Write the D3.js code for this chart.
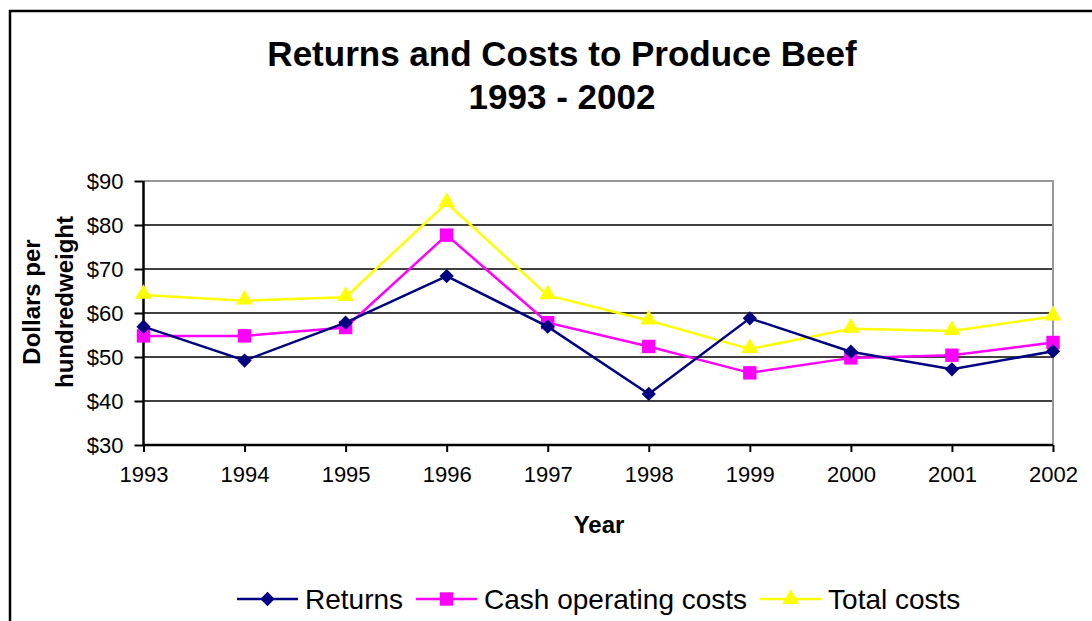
<!DOCTYPE html>
<html>
<head>
<meta charset="utf-8">
<script src="https://cdn.jsdelivr.net/npm/d3@7"></script>
<style>
  body { margin:0; padding:0; background:#fff; }
  svg { display:block; font-family:Arial, "Liberation Sans", sans-serif; }
</style>
</head>
<body>
<div id="chart"></div>
<script>
// data
var years = [1993, 1994, 1995, 1996, 1997, 1998, 1999, 2000, 2001, 2002];
var returns = [56.9, 49.2, 57.8, 68.4, 56.9, 41.6, 58.8, 51.2, 47.2, 51.3];
var cashCosts = [54.8, 54.8, 56.7, 77.7, 57.8, 52.4, 46.4, 49.8, 50.4, 53.3];
var totalCosts = [64.1, 62.8, 63.6, 85.0, 64.0, 58.3, 51.8, 56.4, 55.9, 59.2];
var yTicks = [30, 40, 50, 60, 70, 80, 90];
var seriesNames = ["Returns", "Cash operating costs", "Total costs"];

var W = 1092, H = 621;
var plot = {left:143.5, right:1053, top:181, bottom:445};

var svg = d3.select("#chart").append("svg")
  .attr("width", W).attr("height", H);

// outer chart border (runs off the right and bottom)
svg.append("rect")
  .attr("x", 10).attr("y", 11)
  .attr("width", W + 20).attr("height", H + 20)
  .attr("fill", "#fff").attr("stroke", "#000").attr("stroke-width", 2.5);

// title
var title = svg.append("text")
  .attr("text-anchor", "middle")
  .attr("font-weight", "bold").attr("font-size", 35);
title.append("tspan").attr("x", 562).attr("y", 66).text("Returns and Costs to Produce Beef");
title.append("tspan").attr("x", 562).attr("y", 109).text("1993 - 2002");

var x = d3.scaleLinear().domain([1993, 2002]).range([plot.left, plot.right]);
var y = d3.scaleLinear().domain([30, 90]).range([plot.bottom, plot.top]);

// grid lines
svg.append("g").selectAll("line")
  .data(yTicks.filter(function(d){ return d > 30 && d < 90; }))
  .join("line")
  .attr("x1", plot.left).attr("x2", plot.right)
  .attr("y1", function(d){ return y(d); }).attr("y2", function(d){ return y(d); })
  .attr("stroke", "#000").attr("stroke-width", 1.5);

// grey frame top / right
svg.append("path")
  .attr("d", "M" + plot.left + "," + y(90) + "H" + plot.right + "V" + plot.bottom)
  .attr("fill", "none").attr("stroke", "#999").attr("stroke-width", 2);

// axes
var yAxis = d3.axisLeft(y).tickValues(yTicks)
  .tickFormat(function(d){ return "$" + d; })
  .tickSize(9).tickPadding(11);
var gy = svg.append("g").attr("transform", "translate(" + plot.left + ",0)").call(yAxis);

var xAxis = d3.axisBottom(x).tickValues(years).tickFormat(d3.format("d"))
  .tickSize(7).tickPadding(14);
var gx = svg.append("g").attr("transform", "translate(0," + plot.bottom + ")").call(xAxis);

[gx, gy].forEach(function(g){
  g.select(".domain").attr("stroke", "#000").attr("stroke-width", 2.5);
  g.selectAll(".tick line").attr("stroke", "#000").attr("stroke-width", 2);
  g.selectAll(".tick text").attr("fill", "#000")
    .attr("font-size", 22).attr("font-family", "Arial, 'Liberation Sans', sans-serif");
});
// draw domains without the outer end ticks
gy.select(".domain").attr("d", "M0," + plot.top + "V" + plot.bottom);
gx.select(".domain").attr("d", "M" + plot.left + ",0H" + plot.right);
gy.selectAll(".tick text").attr("dy", "0.36em");

// axis titles
svg.append("text")
  .attr("x", 599).attr("y", 533)
  .attr("text-anchor", "middle").attr("font-weight", "bold").attr("font-size", 24)
  .text("Year");

var ytitle = svg.append("text")
  .attr("transform", "translate(0,302) rotate(-90)")
  .attr("text-anchor", "middle").attr("font-weight", "bold").attr("font-size", 24);
ytitle.append("tspan").attr("x", 0).attr("y", 40).text("Dollars per");
ytitle.append("tspan").attr("x", 0).attr("y", 73).text("hundredweight");

// marker shapes
var symDiamond = d3.symbol().type(d3.symbolDiamond2).size(130);
var symSquare = d3.symbol().type(d3.symbolSquare).size(180);
var symTriangle = d3.symbol().type(d3.symbolTriangle).size(125);

var series = [
  {name: seriesNames[0], values: returns, color: "#000080", sym: symDiamond},
  {name: seriesNames[1], values: cashCosts, color: "#ff00ff", sym: symSquare},
  {name: seriesNames[2], values: totalCosts, color: "#ffff00", sym: symTriangle}
];

var line = d3.line()
  .x(function(d, i){ return x(years[i]); })
  .y(function(d){ return y(d); });

// draw back to front: total, cash, returns
series.slice().reverse().forEach(function(s){
  var g = svg.append("g");
  g.append("path").datum(s.values)
    .attr("d", line)
    .attr("fill", "none").attr("stroke", s.color).attr("stroke-width", 2.5);
  g.selectAll("path.m").data(s.values).join("path")
    .attr("class", "m")
    .attr("d", s.sym)
    .attr("transform", function(d, i){
      var dy = s.sym === symTriangle ? -1 : 0;
      return "translate(" + x(years[i]) + "," + (y(d) + dy) + ")";
    })
    .attr("fill", s.color);
});

// legend
var lg = svg.append("g");
var lx = 237, ly = 599;
series.forEach(function(s){
  var it = lg.append("g").attr("transform", "translate(" + lx + "," + ly + ")");
  it.append("line").attr("x1", 0).attr("x2", 61).attr("y1", 0).attr("y2", 0)
    .attr("stroke", s.color).attr("stroke-width", 2.5);
  it.append("path").attr("d", s.sym).attr("transform", "translate(30.5,0)").attr("fill", s.color);
  var t = it.append("text").attr("x", 68).attr("y", 0).attr("dy", "0.36em")
    .attr("font-size", 28).text(s.name);
  lx += 68 + t.node().getComputedTextLength() + 13;
});
</script>
</body>
</html>
